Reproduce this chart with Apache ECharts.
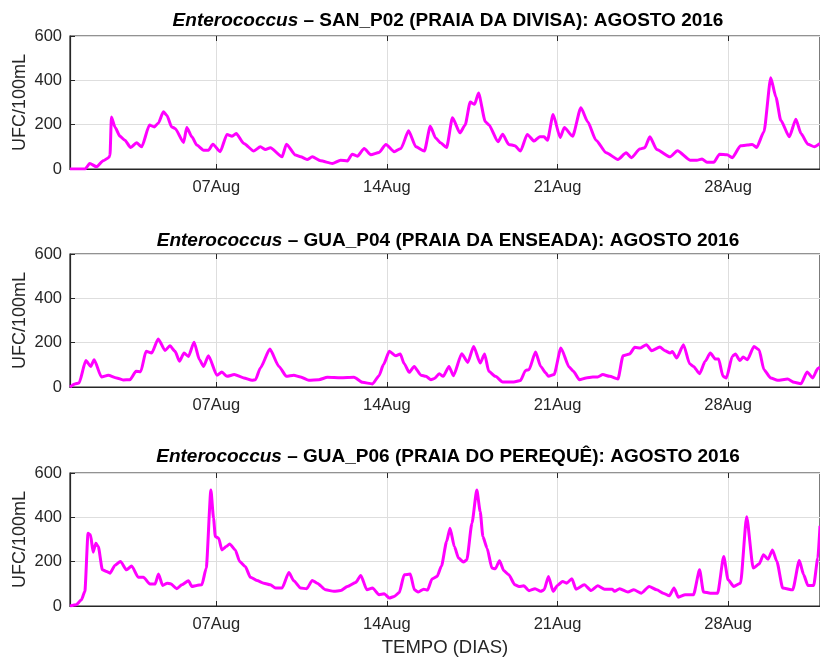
<!DOCTYPE html>
<html>
<head>
<meta charset="utf-8">
<script src="https://cdn.jsdelivr.net/npm/echarts@6/dist/echarts.min.js"></script>
<style>
html, body { margin: 0; padding: 0; background: #fff; }
#chart { width: 820px; height: 660px; }
</style>
</head>
<body>
<div id="chart"></div>
<script>
// dias desde 01 Ago 2016 00h
const tickDays = [6, 13, 20, 27];
const tickLabels = ['07Aug', '14Aug', '21Aug', '28Aug'];
const yTicks = [0, 200, 400, 600];

const sites = [
  'SAN_P02 (PRAIA DA DIVISA): AGOSTO 2016',
  'GUA_P04 (PRAIA DA ENSEADA): AGOSTO 2016',
  'GUA_P06 (PRAIA DO PEREQUÊ): AGOSTO 2016',
];

// SAN_P02
const tSan02 = [0, 0.62, 0.81, 1.09, 1.36, 1.57, 1.64, 1.70, 1.84, 2.05, 2.25, 2.49, 2.73, 2.94, 3.26, 3.46, 3.63, 3.83, 3.97, 4.17,
  4.31, 4.66, 4.79, 5.0, 5.2, 5.48, 5.68, 5.86, 6.16, 6.44, 6.65, 6.82, 7.13, 7.54, 7.81, 8.02, 8.22, 8.70, 8.88, 9.25,
  9.46, 9.73, 9.94, 10.28, 10.76, 11.1, 11.38, 11.58, 11.79, 12.07, 12.34, 12.68, 12.96, 13.3, 13.58, 13.89, 14.19, 14.54, 14.78, 15.0,
  15.2, 15.45, 15.69, 16.0, 16.21, 16.42, 16.6, 16.76, 17.04, 17.18, 17.56, 17.75, 18.0, 18.25, 18.48, 18.76, 19.04, 19.27, 19.45, 19.59,
  19.82, 20.11, 20.28, 20.62, 20.96, 21.24, 21.58, 22.0, 22.48, 22.82, 23.03, 23.38, 23.58, 23.79, 24.07, 24.62, 24.92, 25.44, 25.72, 25.93,
  26.13, 26.41, 26.65, 26.96, 27.17, 27.51, 27.79, 27.99, 28.17, 28.47, 28.75, 28.96, 29.16, 29.51, 29.78, 29.99, 30.27, 30.54, 30.77];
const vSan02 = [0, 0, 25, 10, 37, 50, 60, 235, 190, 148, 130, 97, 118, 100, 198, 190, 208, 258, 243, 190,
  183, 120, 187, 145, 108, 85, 85, 112, 78, 156, 148, 160, 115, 81, 100, 88, 96, 55, 112, 63,
  55, 43, 55, 37, 25, 40, 36, 67, 58, 93, 64, 75, 111, 78, 93, 172, 100, 81, 193, 140,
  118, 97, 231, 163, 198, 302, 292, 343, 213, 200, 123, 157, 111, 105, 81, 156, 126, 145, 145, 130,
  246, 142, 187, 148, 276, 213, 130, 73, 43, 73, 51, 90, 96, 145, 88, 55, 82, 40, 40, 45,
  31, 30, 67, 64, 51, 105, 108, 111, 97, 168, 412, 325, 220, 145, 225, 160, 112, 100, 115];

// GUA_P04
const tGua04 = [0, 0.2, 0.37, 0.65, 0.85, 0.99, 1.29, 1.57, 1.91, 2.18, 2.46, 2.71, 2.9, 3.12, 3.35, 3.62, 3.9, 4.1, 4.31, 4.49,
  4.68, 4.86, 5.09, 5.31, 5.48, 5.68, 6.03, 6.23, 6.44, 6.74, 7.13, 7.47, 7.61, 7.81, 8.2, 8.57, 8.88, 9.18, 9.46, 9.8,
  10.21, 10.56, 11.1, 11.65, 12.0, 12.41, 12.68, 12.86, 13.1, 13.37, 13.55, 13.71, 13.92, 14.12, 14.4, 14.6, 14.81, 14.95, 15.15, 15.31,
  15.55, 15.73, 16.07, 16.32, 16.56, 16.83, 17.01, 17.18, 17.45, 17.75, 18.21, 18.48, 18.69, 18.83, 19.10, 19.31, 19.52, 19.63, 19.86, 20.14,
  20.48, 20.65, 20.90, 21.17, 21.45, 21.65, 21.86, 22.14, 22.48, 22.69, 22.96, 23.17, 23.40, 23.65, 23.86, 24.20, 24.41, 24.62, 24.71, 24.89,
  25.17, 25.42, 25.58, 25.83, 26.06, 26.27, 26.48, 26.61, 26.79, 26.93, 27.17, 27.30, 27.48, 27.62, 27.79, 28.06, 28.27, 28.47, 28.75, 29.03,
  29.44, 29.71, 29.99, 30.24, 30.47, 30.68, 30.77];
const vGua04 = [0, 14, 18, 119, 93, 123, 45, 53, 41, 32, 33, 71, 69, 161, 153, 217, 165, 186, 161, 116,
  153, 138, 202, 123, 93, 141, 53, 68, 48, 56, 41, 30, 33, 86, 171, 93, 48, 53, 45, 30,
  33, 44, 42, 44, 21, 14, 51, 101, 161, 141, 149, 105, 66, 93, 53, 48, 33, 38, 60, 48,
  93, 51, 150, 111, 183, 108, 149, 71, 48, 23, 23, 29, 75, 78, 158, 93, 63, 48, 56, 176,
  90, 71, 33, 41, 45, 45, 56, 48, 36, 141, 149, 179, 176, 191, 164, 180, 164, 153, 160, 131,
  191, 105, 93, 60, 116, 153, 126, 126, 48, 41, 138, 149, 119, 135, 123, 183, 168, 78, 41, 30,
  36, 21, 15, 68, 41, 83, 90];

// GUA_P06
const tGua06 = [0, 0.26, 0.47, 0.61, 0.74, 0.84, 0.95, 1.06, 1.16, 1.33, 1.5, 1.64, 1.84, 2.07, 2.32, 2.53, 2.8, 3.01, 3.28, 3.49,
  3.63, 3.8, 3.99, 4.13, 4.38, 4.59, 4.86, 5.0, 5.2, 5.41, 5.59, 5.78, 5.89, 5.96, 6.1, 6.23, 6.41, 6.55, 6.78, 6.96,
  7.19, 7.4, 7.67, 7.95, 8.22, 8.43, 8.7, 8.98, 9.18, 9.46, 9.71, 9.94, 10.14, 10.49, 10.83, 11.11, 11.38, 11.72, 11.93, 12.18,
  12.41, 12.68, 12.89, 13.1, 13.3, 13.51, 13.71, 13.96, 14.13, 14.29, 14.51, 14.67, 14.85, 15.06, 15.24, 15.45, 15.59, 15.77, 15.94, 16.14,
  16.28, 16.49, 16.69, 16.83, 16.94, 17.11, 17.31, 17.45, 17.62, 17.80, 18.0, 18.25, 18.42, 18.62, 18.83, 19.08, 19.31, 19.45, 19.63, 19.82,
  20.0, 20.21, 20.37, 20.59, 20.76, 21.1, 21.38, 21.65, 21.93, 22.25, 22.34, 22.55, 22.89, 23.13, 23.44, 23.76, 24.07, 24.34, 24.59, 24.78,
  24.96, 25.24, 25.58, 25.83, 25.99, 26.27, 26.57, 26.82, 27.0, 27.23, 27.51, 27.76, 28.03, 28.27, 28.45, 28.64, 28.82, 29.0, 29.24, 29.65,
  29.92, 30.10, 30.27, 30.51, 30.68, 30.77];
const vGua06 = [0, 6, 28, 66, 328, 321, 243, 283, 268, 163, 156, 148, 183, 201, 163, 181, 130, 130, 99, 99,
  144, 93, 103, 100, 78, 96, 114, 88, 93, 96, 171, 523, 396, 313, 306, 253, 268, 280, 253, 201,
  178, 130, 115, 103, 96, 81, 81, 151, 114, 81, 78, 115, 103, 73, 66, 70, 88, 106, 138, 73,
  81, 51, 55, 36, 43, 61, 141, 144, 73, 63, 76, 72, 122, 133, 180, 291, 351, 268, 216, 198,
  208, 373, 523, 426, 313, 261, 171, 168, 204, 159, 141, 96, 88, 91, 69, 78, 66, 73, 133, 66,
  93, 111, 103, 123, 76, 96, 70, 91, 76, 76, 66, 78, 63, 73, 58, 88, 73, 58, 46, 81,
  40, 51, 51, 163, 63, 58, 58, 223, 118, 88, 103, 403, 171, 189, 231, 211, 253, 201, 81, 73,
  205, 141, 93, 93, 216, 362];

const times = [tSan02, tGua04, tGua06];
const values = [vSan02, vGua04, vGua06];

const plotTops = [36, 254, 473];
const plotHeight = 133;
const titleY = [20.5, 240.5, 457];
const xMax = 30.77;
const font = 'Liberation Sans, Arial, sans-serif';
const txt = '#262626';

const myChart = echarts.init(document.getElementById('chart'));

const grid = [];
const xAxis = [];
const yAxis = [];
const series = [];
const graphic = [];

plotTops.forEach((top, i) => {
  grid.push({
    left: 70, right: 0, top, height: plotHeight,
    containLabel: false, outerBoundsMode: 'none',
    show: true, borderColor: txt, borderWidth: 1.2, backgroundColor: '#fff',
  });
  // eixo inferior
  xAxis.push({
    type: 'value', gridIndex: i, min: 0, max: xMax, position: 'bottom',
    axisLine: { show: true, lineStyle: { color: txt, width: 1.2 } },
    axisTick: { show: true, inside: true, length: 5, customValues: tickDays, lineStyle: { color: txt } },
    axisLabel: {
      show: true, customValues: tickDays, margin: 10,
      color: txt, fontSize: 16.5, fontFamily: font,
      formatter: (v) => tickLabels[tickDays.indexOf(Math.round(v))] || '',
    },
    splitLine: { show: true, lineStyle: { color: '#dedede', width: 1 } },
    name: i === 2 ? 'TEMPO (DIAS)' : '',
    nameLocation: 'middle', nameGap: 32, nameMoveOverlap: false,
    nameTextStyle: { color: txt, fontSize: 18.5, fontFamily: font },
  });
  // eixo superior (só marcas)
  xAxis.push({
    type: 'value', gridIndex: i, min: 0, max: xMax, position: 'top',
    axisLine: { show: false },
    axisTick: { show: true, inside: true, length: 5, customValues: tickDays, lineStyle: { color: txt } },
    axisLabel: { show: false },
    splitLine: { show: false },
  });
  yAxis.push({
    type: 'value', gridIndex: i, min: 0, max: 600, interval: 200,
    axisLine: { show: true, lineStyle: { color: txt, width: 1.2 } },
    axisTick: { show: true, inside: true, length: 5, lineStyle: { color: txt } },
    axisLabel: { color: txt, fontSize: 16.5, fontFamily: font, margin: 8 },
    splitLine: { show: true, lineStyle: { color: '#dedede', width: 1 } },
    name: 'UFC/100mL', nameLocation: 'middle', nameGap: 41, nameMoveOverlap: false,
    nameTextStyle: { color: txt, fontSize: 18, fontFamily: font },
  });
  series.push({
    type: 'line',
    xAxisIndex: i * 2,
    yAxisIndex: i,
    showSymbol: false,
    smooth: 0.2,
    smoothMonotone: 'x',
    lineStyle: { color: '#ff00ff', width: 3 },
    itemStyle: { color: '#ff00ff' },
    data: times[i].map((t, k) => [t, values[i][k]]),
  });
  graphic.push({
    type: 'text',
    x: 448,
    y: titleY[i],
    style: {
      text: `{it|Enterococcus} – ${sites[i]}`,
      fontSize: 19, fontWeight: 'bold', fontFamily: font, fill: '#000',
      align: 'center', verticalAlign: 'middle',
      rich: {
        it: { fontSize: 19, fontWeight: 'bold', fontStyle: 'italic', fontFamily: font, fill: '#000' },
      },
    },
  });
});

myChart.setOption({
  animation: false,
  grid, xAxis, yAxis, series, graphic,
});
</script>
</body>
</html>
